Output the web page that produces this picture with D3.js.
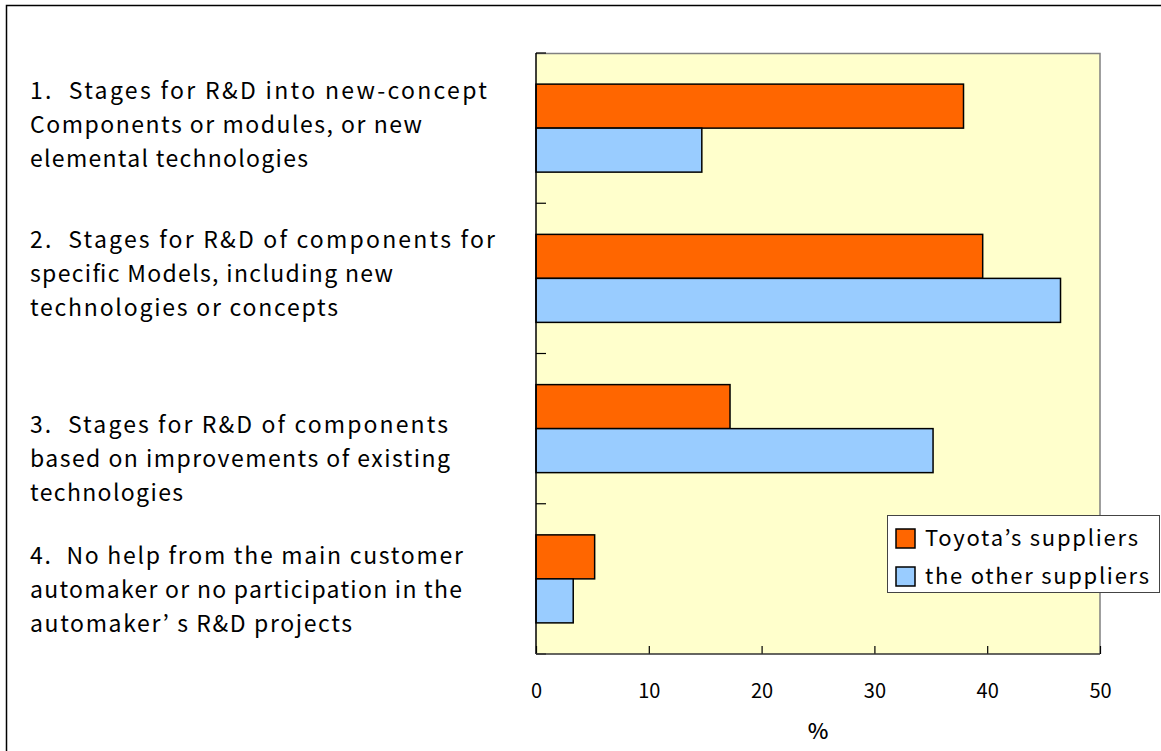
<!DOCTYPE html>
<html>
<head>
<meta charset="utf-8">
<script src="https://cdn.jsdelivr.net/npm/d3@7"></script>
<style>
  html, body { margin: 0; padding: 0; background: #fff; }
  svg { display: block; }
  text { font-family: "Noto Sans CJK JP", "Noto Sans", sans-serif; fill: #000; }
</style>
</head>
<body>
<svg id="chart" width="1161" height="751"></svg>
<script>
// Survey categories (wrapped label lines for each)
const categories = ["c1", "c2", "c3", "c4"];
const categoryLines = [
  ["1.  Stages for R&D into new-concept", "Components or modules, or new", "elemental technologies"],
  ["2.  Stages for R&D of components for", "specific Models, including new", "technologies or concepts"],
  ["3.  Stages for R&D of components", "based on improvements of existing", "technologies"],
  ["4.  No help from the main customer", "automaker or no participation in the", "automaker’ s R&D projects"]
];

// Share of respondents (%)
const seriesNames = ["Toyota’s suppliers", "the other suppliers"];
const toyotaSuppliers = [37.9, 39.6, 17.2, 5.2];
const otherSuppliers = [14.7, 46.5, 35.2, 3.3];
const xTicks = [0, 10, 20, 30, 40, 50];
const xTitle = "%";

const colors = ["#FF6600", "#99CCFF"];

// set widths of the wide gothic lettering used for the labels
const lineWidths = [[457, 392, 278], [465, 363, 308], [418, 420, 153], [433, 432, 322]];
const legendWidths = [213, 224];

const svg = d3.select("#chart");
const plot = { left: 536, right: 1100, top: 53, bottom: 654 };

// outer chart frame
svg.append("path")
  .attr("d", "M6.5,751 V5.5 H1161")
  .attr("fill", "none").attr("stroke", "#000").attr("stroke-width", 1.5);

const x = d3.scaleLinear().domain([0, 50]).range([plot.left, plot.right]);
const y = d3.scaleBand().domain(categories).range([plot.top, plot.bottom])
  .paddingInner(0.4143).paddingOuter(0.4143 / 2);
const ySub = d3.scaleBand().domain([0, 1]).range([0, y.bandwidth()]);

// plot background
svg.append("rect")
  .attr("x", plot.left).attr("y", plot.top)
  .attr("width", plot.right - plot.left).attr("height", plot.bottom - plot.top)
  .attr("fill", "#FFFFCC");

// top and right frame of plot area
svg.append("path")
  .attr("d", `M${plot.left},${plot.top + 0.5} H${plot.right} V${plot.bottom}`)
  .attr("fill", "none").attr("stroke", "#808080").attr("stroke-width", 1.5);

// bars
const series = [toyotaSuppliers, otherSuppliers];
series.forEach((vals, si) => {
  svg.append("g").selectAll("rect")
    .data(vals)
    .join("rect")
    .attr("x", x(0))
    .attr("y", (d, i) => y(categories[i]) + ySub(si))
    .attr("width", d => x(d) - x(0))
    .attr("height", ySub.bandwidth())
    .attr("fill", colors[si])
    .attr("stroke", "#000")
    .attr("stroke-width", 1.5);
});

// x axis
const xAxis = d3.axisBottom(x).tickValues(xTicks).tickFormat(d3.format("d"))
  .tickSizeInner(-8).tickSizeOuter(0).tickPadding(30);
const gx = svg.append("g").attr("transform", `translate(0,${plot.bottom})`).call(xAxis);
gx.select(".domain").remove();
gx.selectAll(".tick line").attr("stroke", "#000").attr("stroke-width", 1.2);
gx.selectAll(".tick text").attr("font-size", 20).attr("font-family", "\"Noto Sans CJK JP\", sans-serif").attr("fill", "#000");

// y axis boundary ticks (pointing into the plot)
const boundaries = d3.range(categories.length + 1).map(i => plot.top + i * y.step());
svg.append("g").selectAll("line")
  .data(boundaries)
  .join("line")
  .attr("x1", plot.left).attr("x2", plot.left + 10)
  .attr("y1", d => d).attr("y2", d => d)
  .attr("stroke", "#000").attr("stroke-width", 1.2);

// axis lines
svg.append("line")
  .attr("x1", plot.left).attr("x2", plot.left)
  .attr("y1", plot.top).attr("y2", plot.bottom)
  .attr("stroke", "#000").attr("stroke-width", 1.5);
svg.append("line")
  .attr("x1", plot.left).attr("x2", plot.right)
  .attr("y1", plot.bottom).attr("y2", plot.bottom)
  .attr("stroke", "#333").attr("stroke-width", 1.5);

// x title
svg.append("text")
  .attr("x", (plot.left + plot.right) / 2)
  .attr("y", 739)
  .attr("text-anchor", "middle")
  .attr("font-size", 22)
  .attr("font-weight", 500)
  .text(xTitle);

// category labels, left of the plot
const labelShift = [-29, -30, 4, -15];
const lineHeight = 34;
categories.forEach((c, i) => {
  const cy = y(c) + y.bandwidth() / 2 + labelShift[i];
  categoryLines[i].forEach((ln, j) => {
    svg.append("text")
      .attr("x", 30)
      .attr("y", cy + j * lineHeight)
      .attr("font-size", 23)
      .attr("textLength", lineWidths[i][j])
      .attr("lengthAdjust", "spacing")
      .style("white-space", "pre")
      .text(ln);
  });
});

// legend
const lg = svg.append("g").attr("transform", "translate(887,515)");
lg.append("rect").attr("x", 0.5).attr("y", 0.5).attr("width", 272).attr("height", 77)
  .attr("fill", "#fff").attr("stroke", "#444").attr("stroke-width", 1);
seriesNames.forEach((name, i) => {
  lg.append("rect")
    .attr("x", 9).attr("y", 14 + i * 38)
    .attr("width", 19).attr("height", 19)
    .attr("fill", colors[i]).attr("stroke", "#000").attr("stroke-width", 1.5);
  lg.append("text")
    .attr("x", 38).attr("y", 31 + i * 38)
    .attr("font-size", 22)
    .attr("textLength", legendWidths[i])
    .attr("lengthAdjust", "spacing")
    .text(name);
});
</script>
</body>
</html>
